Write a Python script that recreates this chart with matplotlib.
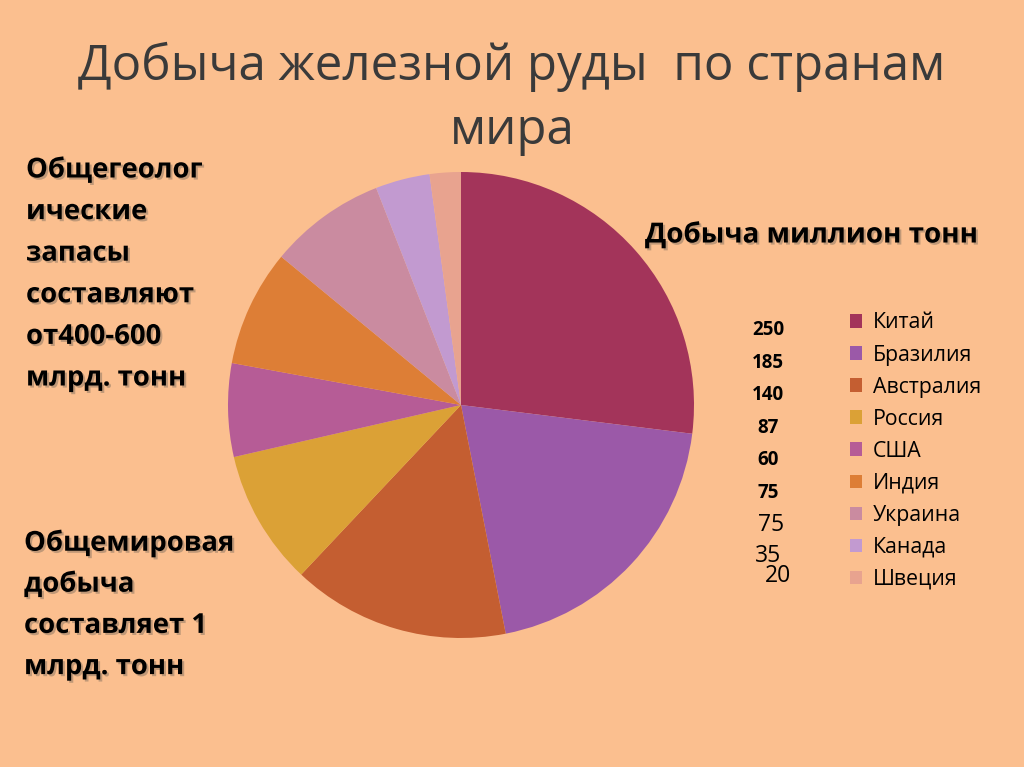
import matplotlib
matplotlib.use('Agg')
import matplotlib.pyplot as plt
import matplotlib.patheffects as pe
from matplotlib.patches import Patch

plt.rcParams['font.family'] = ['Open Sans', 'DejaVu Sans']

countries = ['Китай', 'Бразилия', 'Австралия', 'Россия', 'США', 'Индия', 'Украина', 'Канада', 'Швеция']
values = [250, 185, 140, 87, 60, 75, 75, 35, 20]
colors = ['#A3345A', '#9B59A8', '#C45E31', '#DBA136', '#B65C96', '#DD7E36', '#CA8BA0', '#C29AD0', '#E8A38F']

title = 'Добыча железной руды  по странам\nмира'
series_name = 'Добыча миллион тонн'
note_reserves = ['Общегеолог', 'ические', 'запасы', 'составляют', 'от400-600', 'млрд. тонн']
note_world = ['Общемировая', 'добыча', 'составляет 1', 'млрд. тонн']

bg = '#FBBF8F'
W, H = 1024, 767
fig = plt.figure(figsize=(W / 100, H / 100), dpi=100, facecolor=bg)

def px(x, y):
    return x / W, 1 - y / H

shadow = [pe.withSimplePatchShadow(offset=(1.5, -1.5), shadow_rgbFace='#7a6a5a', alpha=0.45)]

# pie
cx, cy, r = 461, 405, 233
ax = fig.add_axes([(cx - r) / W, (H - cy - r) / H, 2 * r / W, 2 * r / H])
ax.set_facecolor(bg)
wedges, _ = ax.pie(values, colors=colors, startangle=90, counterclock=False,
                   wedgeprops=dict(linewidth=0))
ax.set_xlim(-1, 1)
ax.set_ylim(-1, 1)
ax.set_aspect('equal')
ax.axis('off')

# title
fig.text(*px(512, 99), title, ha='center', va='center', fontsize=35.5,
         color='#3a3a3a', linespacing=1.4)

fig.text(*px(645, 235), series_name, ha='left', va='center', fontsize=20,
         fontweight='bold', color='black', path_effects=shadow)

# left notes
for i, line in enumerate(note_reserves):
    fig.text(*px(26, 170 + i * 41.6), line, ha='left', va='center', fontsize=19.8,
             fontweight='bold', path_effects=shadow)
for i, line in enumerate(note_world):
    fig.text(*px(24, 543 + i * 41.2), line, ha='left', va='center', fontsize=19.8,
             fontweight='bold', path_effects=shadow)

# value labels (misplaced data labels in the original)
for i, v in enumerate(values):
    if i < 6:
        fig.text(*px(768, 330 + i * 32.5), str(v), ha='center', va='center',
                 fontsize=13.5, fontweight='bold')
    elif i == 6:
        fig.text(*px(771, 525), str(v), ha='center', va='center', fontsize=16.5)
    elif i == 7:
        fig.text(*px(768, 556), str(v), ha='center', va='center', fontsize=16.5)
    else:
        fig.text(*px(778, 576), str(v), ha='center', va='center', fontsize=16.5)

# legend
handles = [Patch(facecolor=c, edgecolor='none') for c in colors]
fig.legend(handles, countries, loc='upper left', bbox_to_anchor=px(841, 304),
           frameon=False, fontsize=15.3, handlelength=0.6, handleheight=0.6,
           handletextpad=0.5, labelspacing=0.52, borderaxespad=0)

fig.savefig('out.png', dpi=100, facecolor=bg)
